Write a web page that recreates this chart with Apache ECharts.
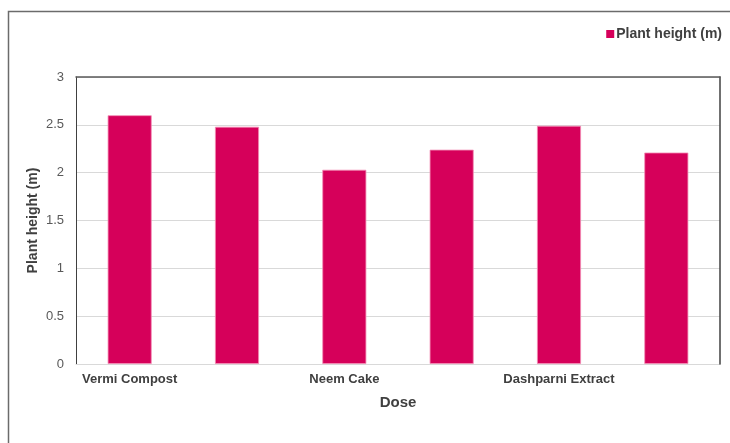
<!DOCTYPE html>
<html>
<head>
<meta charset="utf-8">
<title>Plant height by dose</title>
<script src="https://cdn.jsdelivr.net/npm/echarts@6/dist/echarts.min.js"></script>
<style>
  html, body { margin: 0; padding: 0; background: #ffffff; }
  #chart { width: 730px; height: 443px; }
</style>
</head>
<body>
<div id="chart"></div>
<script>
// Dose groups along the x axis (only every other group carries a printed name)
const categories = ['Vermi Compost', '', 'Neem Cake', '', 'Dashparni Extract', ''];
// Plant height in metres for each group
const plantHeight = [2.60, 2.48, 2.03, 2.24, 2.49, 2.21];
// Value axis ticks
const yTicks = [0, 0.5, 1, 1.5, 2, 2.5, 3];

const seriesName = 'Plant height (m)';
const barColor = '#D6005A';
const fontFamily = '"Liberation Sans", Arial, sans-serif';

const chart = echarts.init(document.getElementById('chart'), null, { renderer: 'canvas' });

chart.setOption({
  animation: false,
  backgroundColor: '#ffffff',
  textStyle: { fontFamily: fontFamily },
  graphic: [{
    // outer chart frame
    type: 'rect',
    silent: true,
    shape: { x: 8.5, y: 11.5, width: 800, height: 500 },
    style: { fill: 'none', stroke: '#6b6b6b', lineWidth: 1.5 }
  }],
  legend: {
    right: 3,
    top: 22,
    itemWidth: 8,
    itemHeight: 8,
    itemGap: 10,
    icon: 'rect',
    itemStyle: { borderWidth: 0 },
    textStyle: { fontFamily: fontFamily, fontWeight: 'bold', fontSize: 14, color: '#404040', padding: [0, 0, 0, -3] },
    data: [seriesName]
  },
  grid: { left: 76, right: 10, top: 77, bottom: 79, containLabel: false },
  xAxis: [{
    type: 'category',
    data: categories,
    position: 'bottom',
    name: 'Dose',
    nameLocation: 'middle',
    nameGap: 31,
    nameMoveOverlap: false,
    nameTextStyle: { fontFamily: fontFamily, fontWeight: 'bold', fontSize: 15, color: '#404040' },
    axisLine: { show: true, onZero: false, lineStyle: { color: '#d9d9d9', width: 1 } },
    axisTick: { show: false },
    axisLabel: { interval: 0, margin: 9, fontFamily: fontFamily, fontWeight: 'bold', fontSize: 13, color: '#404040' },
    splitLine: { show: false }
  }, {
    // top frame edge
    type: 'category',
    data: categories,
    position: 'top',
    z: 5,
    axisLine: { show: true, onZero: false, lineStyle: { color: '#595959', width: 1.5 } },
    axisTick: { show: false },
    axisLabel: { show: false },
    splitLine: { show: false }
  }],
  yAxis: [{
    type: 'value',
    min: yTicks[0],
    max: yTicks[yTicks.length - 1],
    interval: yTicks[1] - yTicks[0],
    name: seriesName,
    nameLocation: 'middle',
    nameGap: 36,
    nameMoveOverlap: false,
    nameTextStyle: { fontFamily: fontFamily, fontWeight: 'bold', fontSize: 14, color: '#404040' },
    axisLine: { show: true, onZero: false, lineStyle: { color: '#404040', width: 1 } },
    axisTick: { show: false },
    axisLabel: { margin: 12, fontFamily: fontFamily, fontSize: 13, color: '#595959' },
    splitLine: { show: true, lineStyle: { color: '#d9d9d9', width: 1 } }
  }, {
    // right frame edge
    type: 'value',
    min: yTicks[0],
    max: yTicks[yTicks.length - 1],
    interval: yTicks[1] - yTicks[0],
    position: 'right',
    z: 5,
    axisLine: { show: true, onZero: false, lineStyle: { color: '#404040', width: 1.5 } },
    axisTick: { show: false },
    axisLabel: { show: false },
    splitLine: { show: false }
  }],
  series: [{
    name: seriesName,
    type: 'bar',
    data: plantHeight,
    barWidth: '41%',
    itemStyle: { color: barColor, borderColor: '#f28cb4', borderWidth: 0.8 }
  }]
});
</script>
</body>
</html>
